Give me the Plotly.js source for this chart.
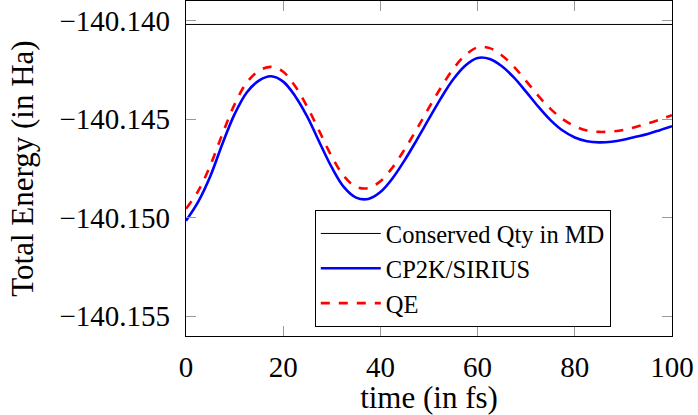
<!DOCTYPE html>
<html>
<head>
<meta charset="utf-8">
<script src="https://cdn.plot.ly/plotly-3.0.1.min.js"></script>
<style>html,body{margin:0;padding:0;background:#fff;}#plot{width:698px;height:415px;}</style>
</head>
<body>
<div id="plot"></div>
<script>
const time = [0,2.5,5,7.5,10,12.5,15,17.5,20,22.5,25,27.5,30,32.5,35,37.5,40,42.5,45,47.5,50,52.5,55,57.5,60,62.5,65,67.5,70,72.5,75,77.5,80,82.5,85,87.5,90,92.5,95,97.5,100];
const cp2kSirius = [-140.15015,-140.14920,-140.14790,-140.14625,-140.14475,-140.14365,-140.14305,-140.14283,-140.14310,-140.14385,-140.14490,-140.14620,-140.14745,-140.14845,-140.14898,-140.14905,-140.14870,-140.14800,-140.14708,-140.14605,-140.14498,-140.14392,-140.14298,-140.14228,-140.14190,-140.14195,-140.14232,-140.14290,-140.14362,-140.14437,-140.14505,-140.14558,-140.14593,-140.14612,-140.14618,-140.14615,-140.14605,-140.14590,-140.14575,-140.14556,-140.14536];
const qe = [-140.14955,-140.14865,-140.14735,-140.14575,-140.14425,-140.14315,-140.14255,-140.14235,-140.14260,-140.14335,-140.14440,-140.14565,-140.14690,-140.14790,-140.14843,-140.14850,-140.14815,-140.14745,-140.14653,-140.14550,-140.14442,-140.14338,-140.14245,-140.14175,-140.14136,-140.14140,-140.14177,-140.14235,-140.14307,-140.14382,-140.14448,-140.14500,-140.14536,-140.14558,-140.14565,-140.14563,-140.14555,-140.14540,-140.14522,-140.14502,-140.14480];
const conservedTime = [0,100];
const conserved = [-140.1402,-140.1402];
const seriesNames = ["Conserved Qty in MD","CP2K/SIRIUS","QE"];
const xTickVals = [0,20,40,60,80,100];
const xTickText = ["0","20","40","60","80","100"];
const yTickVals = [-140.155,-140.150,-140.145,-140.140];
const yTickText = ["\u2212140.155","\u2212140.150","\u2212140.145","\u2212140.140"];

const font = "Liberation Serif, Times New Roman, serif";
const traces = [
  {x: conservedTime, y: conserved, name: seriesNames[0], mode: "lines", line: {color: "#000", width: 1}},
  {x: time, y: cp2kSirius, name: seriesNames[1], mode: "lines", line: {color: "#0000ff", width: 2.6, shape: "spline"}},
  {x: time, y: qe, name: seriesNames[2], mode: "lines", line: {color: "#ff0000", width: 2.6, dash: "dash", shape: "spline"}}
];
const axisCommon = {
  showgrid: false, zeroline: false, showline: true, linecolor: "#000", linewidth: 1.2, mirror: "ticks",
  ticks: "inside", ticklen: 10, tickcolor: "#999", tickwidth: 1,
  tickfont: {family: font, size: 29, color: "#000"}
};
const layout = {
  width: 698, height: 415,
  margin: {l: 186, r: 26, t: 1, b: 79},
  paper_bgcolor: "#fff", plot_bgcolor: "#fff",
  font: {family: font, color: "#000"},
  xaxis: Object.assign({}, axisCommon, {
    range: [0, 100], tickvals: xTickVals, ticktext: xTickText, ticklabelstandoff: 5,
    title: {text: "time (in fs)", font: {family: font, size: 31, color: "#000"}, standoff: 10}
  }),
  yaxis: Object.assign({}, axisCommon, {
    range: [-140.156, -140.13901], tickvals: yTickVals, ticktext: yTickText, ticklabelstandoff: 9,
    title: {text: "Total Energy (in Ha)", font: {family: font, size: 31, color: "#000"}, standoff: 16}
  }),
  showlegend: true,
  legend: {
    x: 0.265, y: 0.376, xanchor: "left", yanchor: "top",
    bgcolor: "#fff", bordercolor: "#000", borderwidth: 1,
    font: {family: font, size: 24.5, color: "#000"},
    itemwidth: 60,
    tracegroupgap: 0
  }
};
Plotly.newPlot("plot", traces, layout, {displayModeBar: false, staticPlot: true});
</script>
</body>
</html>
